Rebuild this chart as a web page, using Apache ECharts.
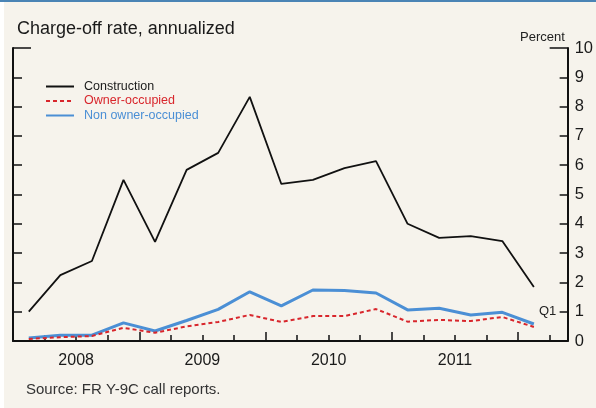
<!DOCTYPE html>
<html>
<head>
<meta charset="utf-8">
<script src="https://cdn.jsdelivr.net/npm/echarts@6/dist/echarts.min.js"></script>
<style>
  html, body { margin: 0; padding: 0; background: #ffffff; }
  #chart { width: 596px; height: 408px; }
</style>
</head>
<body>
<div id="chart"></div>
<script>
// quarters, 2008 Q1 .. 2012 Q1
const quarters = [
  "2008Q1", "2008Q2", "2008Q3", "2008Q4",
  "2009Q1", "2009Q2", "2009Q3", "2009Q4",
  "2010Q1", "2010Q2", "2010Q3", "2010Q4",
  "2011Q1", "2011Q2", "2011Q3", "2011Q4",
  "2012Q1"
];
const yearLabels = ["2008", "2009", "2010", "2011"];
const construction = [1.0, 2.25, 2.73, 5.5, 3.38, 5.84, 6.42, 8.33, 5.36, 5.5, 5.9, 6.14, 4.0, 3.52, 3.58, 3.41, 1.84];
const ownerOccupied = [0.07, 0.13, 0.17, 0.45, 0.28, 0.5, 0.65, 0.89, 0.65, 0.85, 0.85, 1.09, 0.66, 0.72, 0.68, 0.82, 0.48];
const nonOwnerOccupied = [0.1, 0.2, 0.2, 0.62, 0.34, 0.7, 1.08, 1.68, 1.2, 1.74, 1.72, 1.64, 1.06, 1.12, 0.89, 0.98, 0.58];

const FONT = "'Liberation Sans', Arial, sans-serif";
const X_MAX = 17.57; // axis runs a bit past the last quarter

// each point sits in the middle of its quarter
const toPoints = (vals) => vals.map((v, i) => [i + 0.5, v]);

const chart = echarts.init(document.getElementById("chart"));

const tickStyle = { color: "#111", width: 1.5 };
const yAxisBase = (position, interval, tickLen, showLine) => ({
  type: "value", position: position, min: 0, max: 10, interval: interval,
  axisLine: { show: showLine, onZero: false, lineStyle: { color: "#111", width: 2 } },
  axisTick: { show: true, inside: true, length: tickLen, lineStyle: tickStyle },
  splitLine: { show: false },
  axisLabel: { show: false }
});

const option = {
  backgroundColor: "transparent",
  animation: false,
  textStyle: { fontFamily: FONT },
  graphic: [
    // cream panel + blue top rule
    { type: "rect", left: 4, top: 0, shape: { width: 592, height: 408 }, style: { fill: "#f6f3ec" }, z: -10 },
    { type: "rect", left: 0, top: 0, shape: { width: 596, height: 2 }, style: { fill: "#4a84b5" }, z: -9 },
    { type: "text", left: 520, top: 31, style: { text: "Percent", font: "13px " + FONT, fill: "#222" } },
    { type: "text", left: 539, top: 305, style: { text: "Q1", font: "13px " + FONT, fill: "#222" } }
  ],
  title: [
    {
      text: "Charge-off rate, annualized",
      left: 12, top: 15,
      textStyle: { fontFamily: FONT, fontSize: 18, fontWeight: "normal", color: "#1a1a1a" }
    },
    {
      text: "Source: FR Y-9C call reports.",
      left: 21, top: 377,
      textStyle: { fontFamily: FONT, fontSize: 15, fontWeight: "normal", color: "#333" }
    }
  ],
  legend: {
    orient: "vertical",
    left: 45, top: 80, padding: 0,
    itemWidth: 28, itemHeight: 14, itemGap: 1.5,
    itemStyle: { color: "transparent", borderWidth: 0, opacity: 0 },
    textStyle: { fontFamily: FONT, fontSize: 12.5, padding: [0, 0, 0, 5] },
    data: [
      { name: "Construction", textStyle: { color: "#1a1a1a" } },
      { name: "Owner-occupied", textStyle: { color: "#d8262c" } },
      { name: "Non owner-occupied", textStyle: { color: "#4b8fd5" } }
    ]
  },
  grid: { left: 13, right: 25, top: 48, bottom: 67 },
  xAxis: [
    {
      type: "value", min: 0, max: X_MAX, interval: 1,
      axisLine: { onZero: false, lineStyle: { color: "#111", width: 2 } },
      axisTick: { inside: true, length: 6, lineStyle: tickStyle },
      splitLine: { show: false },
      showMaxLabel: false,
      axisLabel: {
        margin: 12, fontSize: 16, color: "#1a1a1a", fontFamily: FONT,
        formatter: (v) => (v % 4 === 2 ? yearLabels[(v - 2) / 4] : "")
      }
    },
    {
      // taller ticks at year boundaries
      type: "value", position: "bottom", min: 0, max: X_MAX, interval: 4,
      axisLine: { show: false, onZero: false },
      axisTick: { inside: true, length: 9, lineStyle: tickStyle },
      axisLabel: { show: false },
      splitLine: { show: false }
    }
  ],
  yAxis: [
    Object.assign(yAxisBase("right", 1, 8, true), {
      axisLabel: { show: true, margin: 7, fontSize: 16.5, color: "#1a1a1a", fontFamily: FONT }
    }),
    yAxisBase("left", 1, 9, true),
    // long ticks at 10 on both sides
    yAxisBase("right", 10, 18, false),
    yAxisBase("left", 10, 18, false)
  ],
  series: [
    {
      name: "Construction", type: "line", data: toPoints(construction),
      symbol: "none", z: 3,
      lineStyle: { color: "#111", width: 1.8 },
      itemStyle: { color: "#111" }
    },
    {
      name: "Owner-occupied", type: "line", data: toPoints(ownerOccupied),
      symbol: "none", z: 4,
      lineStyle: { color: "#d8262c", width: 2, type: [4, 3] },
      itemStyle: { color: "#d8262c" }
    },
    {
      name: "Non owner-occupied", type: "line", data: toPoints(nonOwnerOccupied),
      symbol: "none", z: 2,
      lineStyle: { color: "#4b8fd5", width: 3 },
      itemStyle: { color: "#4b8fd5" }
    }
  ]
};

chart.setOption(option);
window.onresize = function () {
  chart.resize();
};
</script>
</body>
</html>
